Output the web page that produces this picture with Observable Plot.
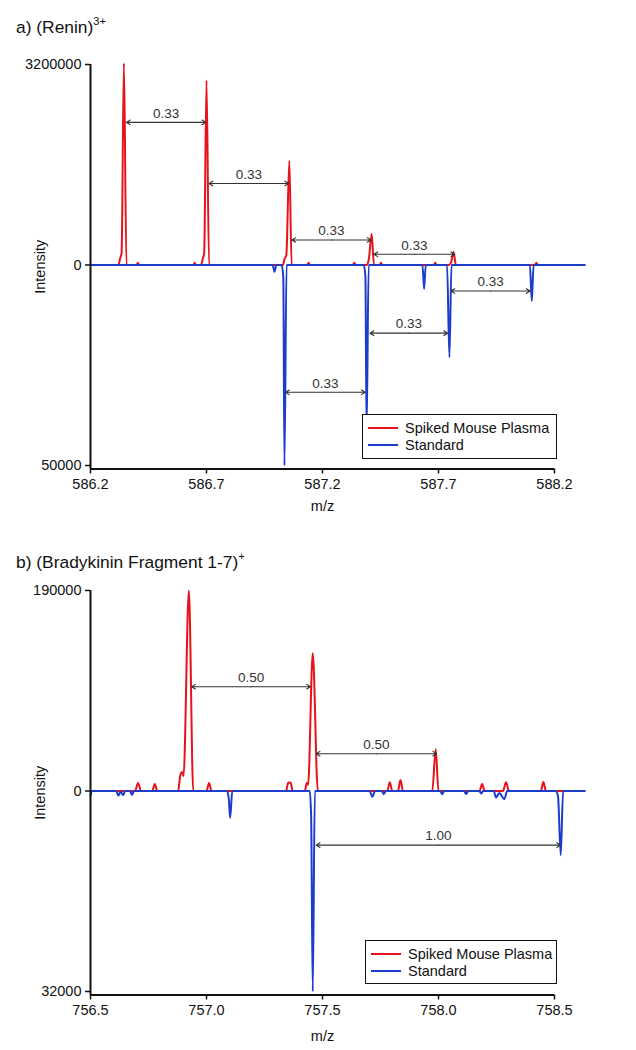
<!DOCTYPE html>
<html><head><meta charset="utf-8">
<script src="https://cdn.jsdelivr.net/npm/d3@7"></script>
<script src="https://cdn.jsdelivr.net/npm/@observablehq/plot@0.6"></script>
<style>
body{margin:0;background:#fff;font-family:"Liberation Sans",Arial,sans-serif;}
#page{position:relative;width:636px;height:1050px;overflow:hidden;background:#fff}
.title{position:absolute;left:16px;font-size:17.4px;line-height:17px;color:#111;white-space:nowrap}
.title sup{font-size:11px;line-height:0;position:relative;top:-1px}
.plot{position:absolute;left:0}
.legend{position:absolute;border:1.5px solid #111;background:#fff;font-size:14.5px;color:#111;box-sizing:border-box;padding-top:4px}
.legend .row{height:17px;display:flex;align-items:center;white-space:nowrap}
.legend .sw{display:inline-block;width:30px;height:0;border-top:2px solid;margin:0 7px 0 5px}
</style>
</head><body><div id="page"></div>
<script>
// ---------- shared ----------
const seriesNames = ["Spiked Mouse Plasma", "Standard"];
const seriesColors = ["#e8121c", "#1c3ccc"];

// ---------- panel a: (Renin)3+ ----------
const aTitle = "a) (Renin)";
const aCharge = "3+";
const aXTicks = [586.2, 586.7, 587.2, 587.7, 588.2];
const aYTickLabels = ["50000", "0", "3200000"]; // bottom, zero, top
const aRedMax = 3200000;
const aBlueMax = 50000;
const aRedMz  = [586.200, 586.320, 586.328, 586.334, 586.344, 586.355, 586.398, 586.404, 586.410, 586.643, 586.649, 586.655,
                 586.676, 586.684, 586.690, 586.700, 586.711, 587.030, 587.036, 587.044, 587.057, 587.067, 587.134, 587.140, 587.146,
                 587.331, 587.337, 587.343, 587.390, 587.400, 587.412, 587.422, 587.446, 587.452, 587.458, 587.680, 587.686, 587.692,
                 587.744, 587.755, 587.765, 587.775, 588.116, 588.122, 588.128, 588.330];
const aRedInt = [0, 0, 110000, 190000, 3220000, 0, 0, 35000, 0, 0, 35000, 0,
                 0, 100000, 190000, 2944000, 0, 0, 96000, 150000, 1664000, 0, 0, 35000, 0,
                 0, 35000, 0, 0, 100000, 496000, 0, 0, 35000, 0, 0, 35000, 0,
                 0, 50000, 208000, 0, 0, 35000, 0, 0];
const aBlueMz  = [586.200, 586.985, 586.993, 587.001, 587.024, 587.031, 587.036, 587.045, 587.378, 587.385, 587.390, 587.399,
                  587.631, 587.638, 587.645, 587.737, 587.747, 587.756, 588.094, 588.102, 588.110, 588.330];
const aBlueInt = [0, 0, 1700, 0, 0, 3000, 50000, 0, 0, 3000, 41500, 0,
                  0, 6000, 0, 0, 23000, 0, 0, 9000, 0, 0];
const aArrowX1 = [586.355, 586.711, 587.068, 587.422, 587.754, 587.405, 587.041];
const aArrowX2 = [586.697, 587.054, 587.409, 587.770, 588.095, 587.739, 587.384];
const aArrowLevel = [0.7115, 0.4065, 0.125, 0.0535, -0.13, -0.34, -0.635];
const aArrowLabel = ["0.33", "0.33", "0.33", "0.33", "0.33", "0.33", "0.33"];

// ---------- panel b: (Bradykinin Fragment 1-7)+ ----------
const bTitle = "b) (Bradykinin Fragment 1-7)";
const bCharge = "+";
const bXTicks = [756.5, 757.0, 757.5, 758.0, 758.5];
const bYTickLabels = ["32000", "0", "190000"];
const bRedMax = 190000;
const bBlueMax = 32000;
const bRedMz  = [756.500, 756.692, 756.705, 756.718, 756.766, 756.777, 756.788, 756.878, 756.887, 756.895, 756.901, 756.924, 756.943,
                 757.000, 757.011, 757.022, 757.343, 757.352, 757.362, 757.372, 757.424, 757.432, 757.438, 757.458, 757.480,
                 757.779, 757.790, 757.801, 757.825, 757.836, 757.847, 757.973, 757.988, 758.000, 758.177, 758.188, 758.199,
                 758.278, 758.291, 758.304, 758.441, 758.452, 758.463, 758.630];
const bRedInt = [0, 0, 7600, 0, 0, 6650, 0, 0, 15000, 18000, 14000, 190000, 0,
                 0, 7600, 0, 0, 7800, 8000, 0, 0, 7600, 6000, 130500, 0,
                 0, 8200, 0, 0, 10450, 0, 0, 39600, 0, 0, 6650, 0,
                 0, 8200, 0, 0, 8550, 0, 0];
const bBlueMz  = [756.500, 756.506, 756.610, 756.620, 756.630, 756.640, 756.650, 756.670, 756.679, 756.688,
                  757.088, 757.096, 757.102, 757.111, 757.445, 757.451, 757.458, 757.467,
                  757.703, 757.715, 757.727, 757.755, 757.764, 757.773, 758.007, 758.016, 758.025,
                  758.110, 758.119, 758.128, 758.176, 758.184, 758.192, 758.238, 758.248, 758.262, 758.284, 758.296,
                  758.505, 758.515, 758.527, 758.537, 758.630];
const bBlueInt = [700, 0, 0, 700, 100, 650, 0, 0, 600, 0,
                  0, 1200, 4320, 0, 0, 4000, 32000, 0,
                  0, 900, 0, 0, 500, 0, 0, 500, 0,
                  0, 480, 0, 0, 400, 0, 0, 1050, 300, 1280, 0,
                  0, 800, 10240, 0, 0];
const bArrowX1 = [756.936, 757.473, 757.473];
const bArrowX2 = [757.448, 757.992, 758.526];
const bArrowLevel = [0.52, 0.186, -0.27];
const bArrowLabel = ["0.50", "0.50", "1.00"];

// ---------- drawing ----------
const page = document.getElementById("page");
const FONT = "'Liberation Sans', Arial, Helvetica, sans-serif";

function makePanel(cfg) {
  const red = cfg.redMz.map((m, i) => ({mz: m, v: cfg.redInt[i] / cfg.redMax}));
  const blue = cfg.blueMz.map((m, i) => ({mz: m, v: -cfg.blueInt[i] / cfg.blueMax}));
  const arrows = cfg.arrowX1.map((x1, i) => ({x1, x2: cfg.arrowX2[i], level: cfg.arrowLevel[i], label: cfg.arrowLabel[i]}));
  const xDomain = [cfg.xTicks[0], cfg.xTicks[cfg.xTicks.length - 1]];
  const tickVals = [-1, 0, 1];
  const yMin = -1.0175; // axis frame sits a few pixels below the lowest tick
  const mid = d => (d.x1 + d.x2) / 2;
  const arrowOpts = {y1: "level", y2: "level", stroke: "#333", strokeWidth: 1.1, headLength: 6, headAngle: 64};
  const svg = Plot.plot({
    width: 636, height: 470,
    marginTop: 14, marginBottom: 51.5, marginLeft: 90, marginRight: 82,
    x: {domain: xDomain},
    y: {domain: [yMin, 1]},
    style: {fontFamily: FONT, fontSize: "14.5px", color: "#111", background: "transparent", overflow: "visible"},
    marks: [
      Plot.line(red, {x: "mz", y: "v", stroke: seriesColors[0], strokeWidth: 2, curve: "monotone-x"}),
      Plot.line(blue, {x: "mz", y: "v", stroke: seriesColors[1], strokeWidth: 2, curve: "monotone-x"}),
      Plot.arrow(arrows, {...arrowOpts, x1: mid, x2: "x1"}),
      Plot.arrow(arrows, {...arrowOpts, x1: mid, x2: "x2"}),
      Plot.text(arrows, {x: mid, y: "level", text: "label", dy: -9, fontSize: 13.5, fill: "#333"}),
      Plot.ruleX([xDomain[0]], {y1: yMin, y2: 1, stroke: "#111", strokeWidth: 2}),
      Plot.ruleY([yMin], {stroke: "#111", strokeWidth: 2}),
      Plot.axisY({ticks: tickVals, tickFormat: d => cfg.yTickLabels[tickVals.indexOf(d)], tickSize: 5, tickPadding: 4, strokeWidth: 1.5,
                  label: "Intensity", labelAnchor: "center", labelArrow: "none", labelOffset: 56}),
      Plot.axisX({ticks: cfg.xTicks, tickFormat: d => d.toFixed(1), tickSize: 5, tickPadding: 5, strokeWidth: 1.5,
                  label: "m/z", labelAnchor: "center", labelArrow: "none", labelOffset: cfg.xLabelOffset})
    ]
  });
  svg.classList.add("plot");
  svg.style.top = cfg.top + "px";
  page.appendChild(svg);

  const t = document.createElement("div");
  t.className = "title";
  t.style.top = cfg.titleTop + "px";
  t.innerHTML = cfg.title + "<sup>" + cfg.charge + "</sup>";
  page.appendChild(t);

  const lg = document.createElement("div");
  lg.className = "legend";
  Object.assign(lg.style, {left: cfg.legend[0] + "px", top: cfg.legend[1] + "px", width: cfg.legend[2] + "px", height: cfg.legend[3] + "px"});
  seriesNames.forEach((n, i) => {
    const r = document.createElement("div");
    r.className = "row";
    const s = document.createElement("span");
    s.className = "sw";
    s.style.borderColor = seriesColors[i];
    r.appendChild(s);
    r.appendChild(document.createTextNode(n));
    lg.appendChild(r);
  });
  page.appendChild(lg);
}

makePanel({title: aTitle, charge: aCharge, xTicks: aXTicks, yTickLabels: aYTickLabels, redMax: aRedMax, blueMax: aBlueMax,
  redMz: aRedMz, redInt: aRedInt, blueMz: aBlueMz, blueInt: aBlueInt,
  arrowX1: aArrowX1, arrowX2: aArrowX2, arrowLevel: aArrowLevel, arrowLabel: aArrowLabel,
  top: 50, titleTop: 19, legend: [362, 414, 195, 45], xLabelOffset: 42});
makePanel({title: bTitle, charge: bCharge, xTicks: bXTicks, yTickLabels: bYTickLabels, redMax: bRedMax, blueMax: bBlueMax,
  redMz: bRedMz, redInt: bRedInt, blueMz: bBlueMz, blueInt: bBlueInt,
  arrowX1: bArrowX1, arrowX2: bArrowX2, arrowLevel: bArrowLevel, arrowLabel: bArrowLabel,
  top: 576, titleTop: 554, legend: [365, 940, 192, 44], xLabelOffset: 46});
</script>
</body></html>
